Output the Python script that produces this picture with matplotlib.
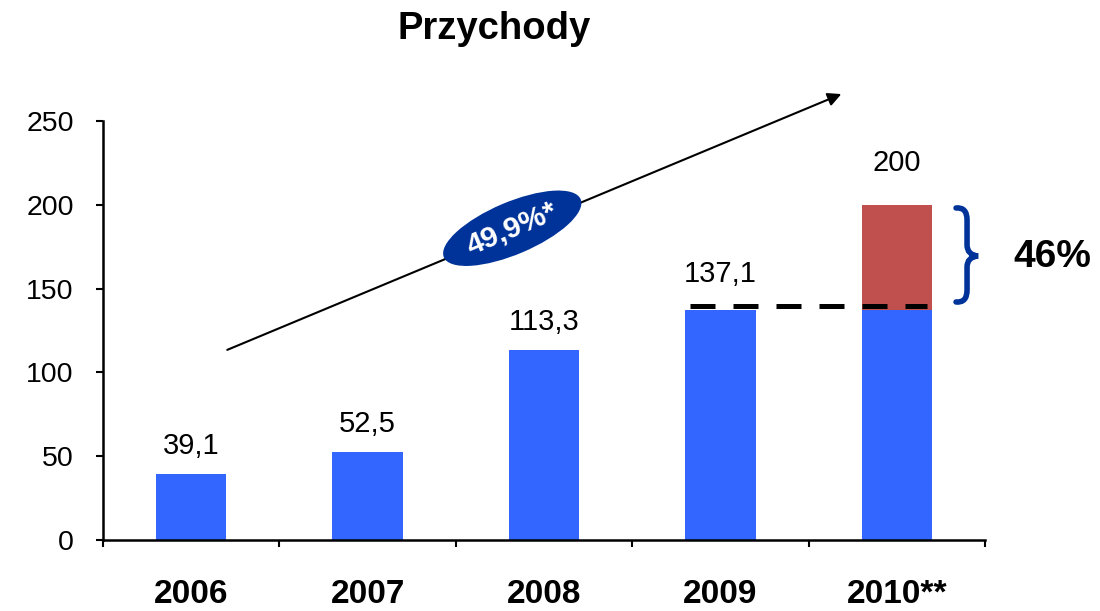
import matplotlib.pyplot as plt
from matplotlib.patches import PathPatch
from matplotlib.path import Path

plt.rcParams['font.family'] = ['Liberation Sans', 'DejaVu Sans']

# dane
years = ["2006", "2007", "2008", "2009", "2010**"]
revenue = [39.1, 52.5, 113.3, 137.1, 200]
labels = ["39,1", "52,5", "113,3", "137,1", "200"]
label_gap = [12, 12, 12, 17, 20]
base_2010 = 137.1
cagr_label = "49,9%*"
growth_label = "46%"

blue = "#3366FF"
red = "#C0504D"
navy = "#003399"

fig = plt.figure(figsize=(11, 6.11), dpi=100)
ax = fig.add_axes([0.0936, 0.1162, 0.8019, 0.6858])

x = list(range(len(years)))
bottoms = revenue[:-1] + [base_2010]
ax.bar(x, bottoms, width=0.4, color=blue, zorder=2)
ax.bar(x[-1], revenue[-1] - base_2010, bottom=base_2010, width=0.4, color=red, zorder=2)

for xi, v, lab, g in zip(x, revenue, labels, label_gap):
    ax.text(xi, v + g, lab, ha="center", va="baseline", fontsize=21)

# przerywana linia poziomu 2009
ax.plot([2.83, 4.17], [base_2010 + 2.7, base_2010 + 2.7], color="black", lw=3.6,
        dashes=(5, 3.6), zorder=3, clip_on=False)

ax.set_xlim(-0.5, 4.5)
ax.set_ylim(0, 250)
ax.set_yticks([0, 50, 100, 150, 200, 250])
ax.tick_params(axis="y", labelsize=20.5, length=5, width=1.5, pad=16, direction="out")
ax.set_xticks([i - 0.5 for i in range(len(years) + 1)])
ax.set_xticklabels([])
ax.tick_params(axis="x", length=5, width=1.5, direction="out")
ax.set_xticks(x, minor=True)
ax.set_xticklabels(years, minor=True, fontsize=24, fontweight="bold")
ax.tick_params(axis="x", which="minor", length=0, pad=28)

for s in ["top", "right"]:
    ax.spines[s].set_visible(False)
ax.spines["left"].set_linewidth(1.8)
ax.spines["bottom"].set_linewidth(1.8)

# strzalka trendu
ax.annotate("", xy=(3.70, 266.7), xytext=(0.19, 112.8),
            arrowprops=dict(arrowstyle="-|>", color="black", lw=1.5, mutation_scale=20),
            annotation_clip=False)

ax.text(1.82, 186, cagr_label, color="white", fontsize=21.5, fontweight="bold",
        rotation=23, rotation_mode="anchor", ha="center", va="center", zorder=5,
        bbox=dict(boxstyle="ellipse,pad=0.15", fc=navy, ec="none"))


# klamra
def px2d(px, py):
    return ((px - 103) / 176.4 - 0.5, (540 - py) / 1.676)

codes = [Path.MOVETO, Path.CURVE3, Path.CURVE3, Path.LINETO,
         Path.CURVE3, Path.CURVE3, Path.CURVE3, Path.CURVE3,
         Path.LINETO, Path.CURVE3, Path.CURVE3]
pts = [(956, 208), (967, 207), (967, 220), (967, 245),
       (967, 255), (978, 256), (967, 257), (967, 267),
       (967, 290), (967, 303), (956, 302)]
brace = PathPatch(Path([px2d(*p) for p in pts], codes), fill=False,
                  edgecolor=navy, lw=4, clip_on=False, capstyle="round")
ax.add_patch(brace)
ax.text(*px2d(1052, 257), growth_label, fontsize=28, fontweight="bold",
        ha="center", va="center")

fig.text(0.449, 0.936, "Przychody", fontsize=27.5, fontweight="bold", ha="center", va="baseline")

fig.savefig("out.png", dpi=100)
